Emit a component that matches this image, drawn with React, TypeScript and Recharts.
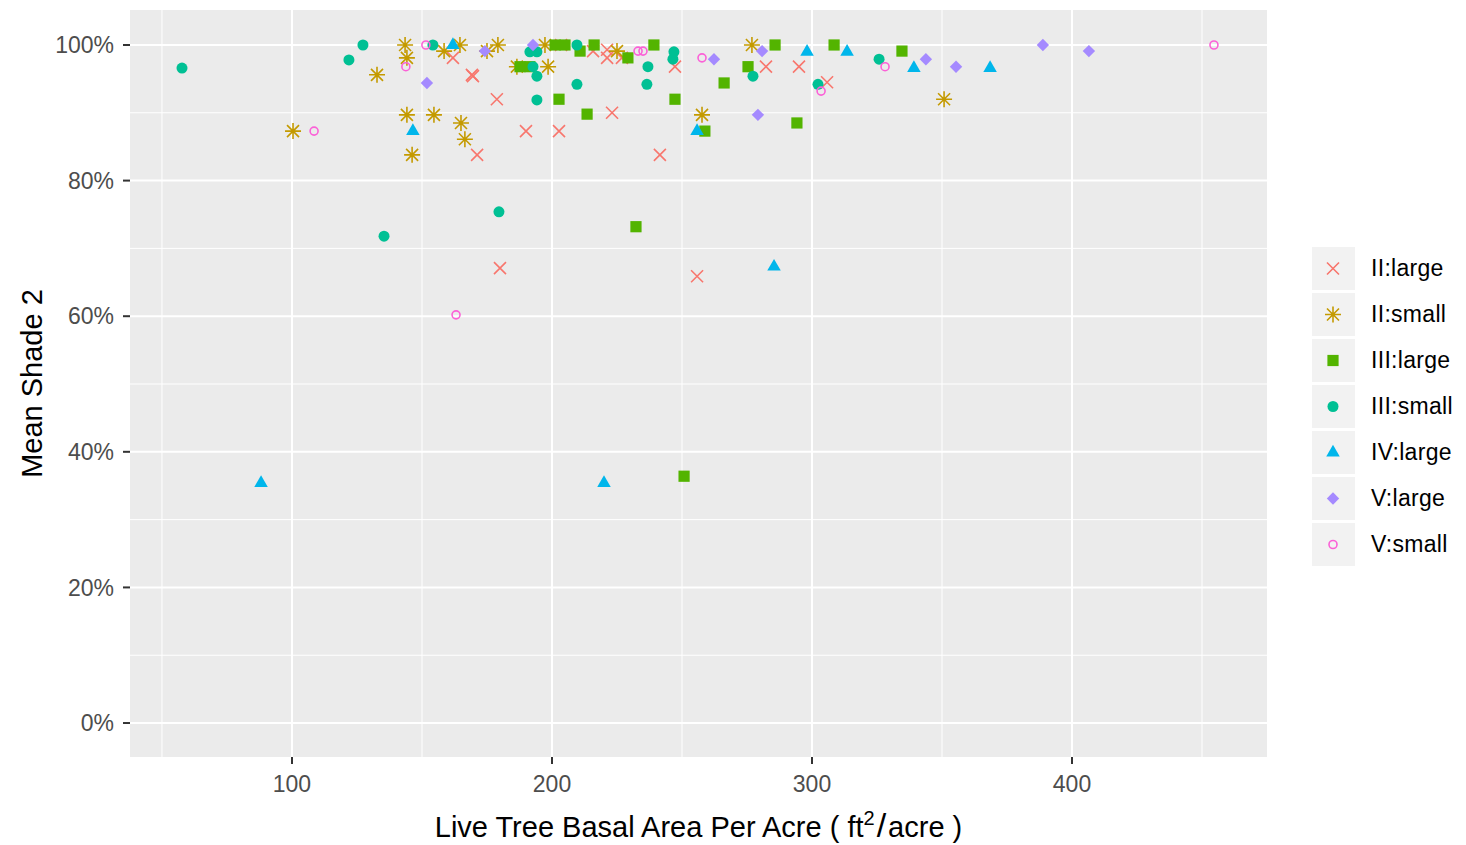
import React from "react"
import { ScatterChart, Scatter, XAxis, YAxis, CartesianGrid, Label } from "recharts"

// [basal area, mean shade %]
const iiLarge: [number, number][] = [
  [161.9, 98.1], [169.2, 95.6], [169.6, 95.4], [178.8, 92.0], [171.2, 83.8], [180.0, 67.1],
  [190.0, 87.3], [202.7, 87.3], [203.5, 100], [215.8, 99.1], [221.2, 99.3], [221.2, 98.1],
  [226.9, 98.1], [223.1, 90.0], [241.5, 83.8], [247.3, 96.8], [255.8, 65.9], [282.3, 96.8],
  [295.0, 96.8], [305.8, 94.5],
]
const iiSmall: [number, number][] = [
  [143.5, 100], [144.2, 98.1], [132.7, 95.6], [158.5, 99.1], [164.6, 100], [175.0, 99.1],
  [179.2, 100], [186.5, 96.8], [198.5, 96.8], [197.3, 100], [100.4, 87.3], [144.2, 89.7],
  [154.6, 89.7], [165.0, 88.5], [166.5, 86.1], [146.2, 83.8], [225.0, 99.1], [276.9, 100],
  [257.7, 89.7], [350.8, 92.0],
]
const iiiLarge: [number, number][] = [
  [201.2, 100], [205.0, 100], [210.8, 99.1], [216.2, 100], [239.2, 100], [229.2, 98.1],
  [187.7, 96.8], [191.5, 96.8], [202.7, 92.0], [213.5, 89.8], [247.3, 92.0], [258.8, 87.3],
  [266.2, 94.4], [275.4, 96.8], [285.8, 100], [308.5, 100], [294.2, 88.5], [334.6, 99.1],
  [232.3, 73.2], [250.8, 36.4],
]
const iiiSmall: [number, number][] = [
  [57.7, 96.6], [127.3, 100], [121.9, 97.8], [154.2, 100], [191.5, 99.0], [194.2, 99.0],
  [192.7, 96.8], [194.2, 95.4], [194.2, 91.9], [209.6, 100], [209.6, 94.2], [236.9, 96.8],
  [236.5, 94.2], [246.9, 99.0], [246.5, 97.9], [277.3, 95.4], [302.3, 94.2], [325.8, 97.9],
  [135.4, 71.8], [179.6, 75.4],
]
const ivLarge: [number, number][] = [
  [161.9, 100], [146.5, 87.3], [255.8, 87.3], [298.1, 99.0], [313.5, 99.0], [339.2, 96.6],
  [368.5, 96.6], [285.4, 67.3], [88.1, 35.4], [220.0, 35.4],
]
const vLarge: [number, number][] = [
  [151.9, 94.4], [192.7, 100], [174.2, 99.1], [262.3, 97.9], [280.8, 99.1], [279.2, 89.7],
  [343.8, 97.9], [355.4, 96.8], [388.8, 100], [406.5, 99.1],
]
const vSmall: [number, number][] = [
  [151.5, 100], [143.8, 96.8], [108.5, 87.3], [233.1, 99.1], [235.0, 99.1], [257.7, 98.1],
  [303.5, 93.2], [328.1, 96.8], [454.6, 100], [163.1, 60.2],
]

const xTicks = [100, 200, 300, 400]
const xMinor = [50, 150, 250, 350, 450]
const yTicks = [0, 20, 40, 60, 80, 100]
const yMinor = [10, 30, 50, 70, 90]

type Kind = "x" | "star" | "square" | "dot" | "tri" | "diamond" | "ring"

const series: { name: string; color: string; kind: Kind; points: [number, number][] }[] = [
  { name: "II:large", color: "#F8766D", kind: "x", points: iiLarge },
  { name: "II:small", color: "#C49A00", kind: "star", points: iiSmall },
  { name: "III:large", color: "#53B400", kind: "square", points: iiiLarge },
  { name: "III:small", color: "#00C094", kind: "dot", points: iiiSmall },
  { name: "IV:large", color: "#00B6EB", kind: "tri", points: ivLarge },
  { name: "V:large", color: "#A58AFF", kind: "diamond", points: vLarge },
  { name: "V:small", color: "#FB61D7", kind: "ring", points: vSmall },
]

const FONT = "'Liberation Sans', Arial, sans-serif"

function Marker({ kind, color, cx, cy }: { kind: Kind; color: string; cx: number; cy: number }) {
  if (cx == null || cy == null) return null
  switch (kind) {
    case "x": {
      const h = 6
      return (
        <path d={`M${cx - h},${cy - h}L${cx + h},${cy + h}M${cx - h},${cy + h}L${cx + h},${cy - h}`}
          stroke={color} strokeWidth={1.6} fill="none" />
      )
    }
    case "star": {
      const h = 6, p = 8
      return (
        <path
          d={`M${cx - h},${cy - h}L${cx + h},${cy + h}M${cx - h},${cy + h}L${cx + h},${cy - h}M${cx - p},${cy}L${cx + p},${cy}M${cx},${cy - p}L${cx},${cy + p}`}
          stroke={color} strokeWidth={1.6} fill="none" />
      )
    }
    case "square":
      return <rect x={cx - 5.6} y={cy - 5.6} width={11.2} height={11.2} fill={color} />
    case "dot":
      return <circle cx={cx} cy={cy} r={5.5} fill={color} />
    case "tri": {
      const r = 7.8
      const xc = r * 0.866
      return <path d={`M${cx},${cy - r}L${cx + xc},${cy + r / 2}L${cx - xc},${cy + r / 2}Z`} fill={color} />
    }
    case "diamond": {
      const h = 6.2
      return <path d={`M${cx},${cy - h}L${cx + h},${cy}L${cx},${cy + h}L${cx - h},${cy}Z`} fill={color} />
    }
    case "ring":
      return <circle cx={cx} cy={cy} r={4} fill="none" stroke={color} strokeWidth={1.6} />
  }
  return null
}

function XTitle(props: any) {
  const vb = props.viewBox || {}
  const cx = vb.x + vb.width / 2
  return (
    <text x={cx} y={837} textAnchor="middle" fontSize={29} fontFamily={FONT} fill="#000">
      <tspan>Live Tree Basal Area Per Acre ( ft</tspan>
      <tspan fontSize={20} dy={-12}>2</tspan>
      <tspan fontSize={34} dy={12} dx={2}>/</tspan>
      <tspan dx={2}>acre )</tspan>
    </text>
  )
}

function YTitle(props: any) {
  const vb = props.viewBox || {}
  const cy = vb.y + vb.height / 2
  return (
    <text x={42} y={cy} transform={`rotate(-90, 42, ${cy})`} textAnchor="middle" fontSize={29}
      fontFamily={FONT} fill="#000">
      Mean Shade 2
    </text>
  )
}

function LegendBox() {
  return (
    <div style={{ position: "absolute", left: 1312, top: 245, fontFamily: FONT }}>
      {series.map((s) => (
        <div key={s.name} style={{ display: "flex", alignItems: "center", height: 46 }}>
          <svg width={43} height={43} style={{ display: "block" }}>
            <rect x={0} y={0} width={43} height={43} fill="#F2F2F2" />
            <Marker kind={s.kind} color={s.color} cx={21} cy={21.5} />
          </svg>
          <span style={{ marginLeft: 16, fontSize: 23, color: "#000", lineHeight: "43px", letterSpacing: 0.3 }}>
            {s.name}
          </span>
        </div>
      ))}
    </div>
  )
}

export default function App() {
  return (
    <div style={{ position: "absolute", left: 0, top: 0, width: 1466, height: 845, background: "#fff" }}>
      <ScatterChart width={1466} height={845} margin={{ top: 10, right: 199, bottom: 0, left: 0 }}>
        <CartesianGrid fill="#EBEBEB" stroke="#fff" strokeWidth={1}
          verticalValues={xMinor} horizontalValues={yMinor} />
        <CartesianGrid stroke="#fff" strokeWidth={2} fill="none"
          verticalValues={xTicks} horizontalValues={yTicks} />
        <XAxis type="number" dataKey="x" domain={[37.7, 475]} ticks={xTicks} height={88}
          axisLine={false} tickSize={7} tickMargin={12}
          tickLine={{ stroke: "#333", strokeWidth: 2 }}
          tick={{ fill: "#4D4D4D", fontSize: 23, fontFamily: FONT }}
          allowDataOverflow>
          <Label content={<XTitle />} />
        </XAxis>
        <YAxis type="number" dataKey="y" domain={[-5.01, 105.16]} ticks={yTicks} width={130}
          axisLine={false} tickSize={7} tickMargin={9}
          tickLine={{ stroke: "#333", strokeWidth: 2 }}
          tick={{ fill: "#4D4D4D", fontSize: 23, fontFamily: FONT }}
          tickFormatter={(v) => `${v}%`}
          allowDataOverflow>
          <Label content={<YTitle />} />
        </YAxis>
        {series.map((s) => (
          <Scatter
            key={s.name}
            name={s.name}
            data={s.points.map(([x, y]) => ({ x, y }))}
            isAnimationActive={false}
            shape={(p: any) => <Marker kind={s.kind} color={s.color} cx={p.cx} cy={p.cy} />}
          />
        ))}
      </ScatterChart>
      <LegendBox />
    </div>
  )
}
